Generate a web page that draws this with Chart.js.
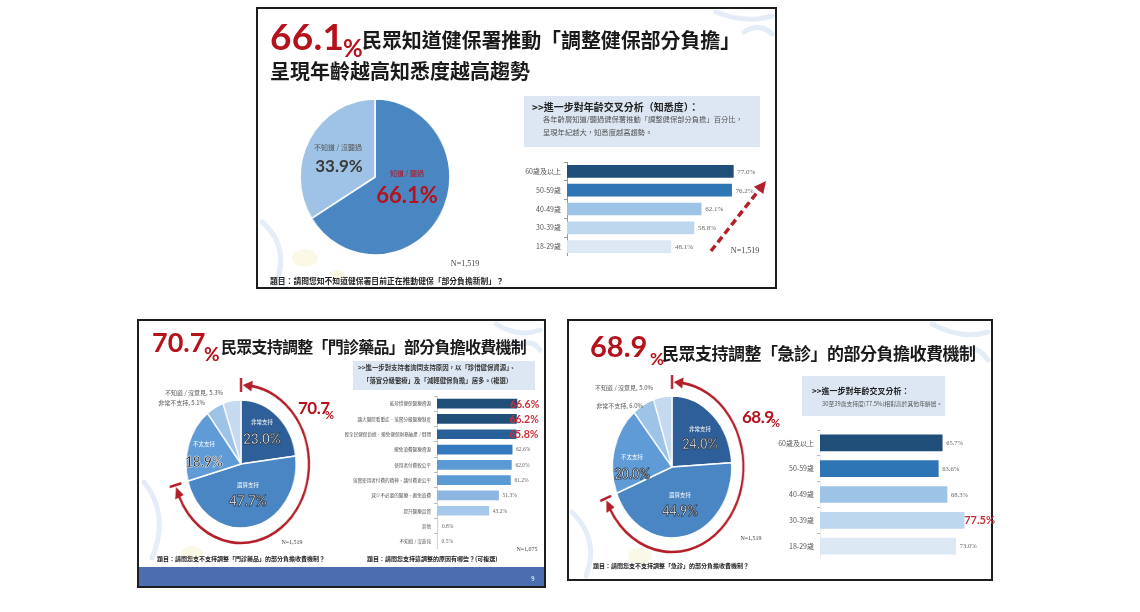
<!DOCTYPE html>
<html lang="zh-Hant">
<head>
<meta charset="utf-8">
<title>健保部分負擔民調</title>
<script src="https://cdn.jsdelivr.net/npm/chart.js@4.4.1/dist/chart.umd.min.js"></script>
<style>
  html, body { margin: 0; padding: 0; background: #fff; }
  body { width: 1140px; height: 612px; position: relative; overflow: hidden;
         font-family: "Noto Sans CJK TC", "Noto Sans", sans-serif; }
  .slide { position: absolute; box-sizing: border-box; border: 2px solid #1e1e1e; background: #fff; }
  .box { position: absolute; background: #dce7f3; }
  .band { position: absolute; background: #4a6eb0; }
  .t { position: absolute; white-space: nowrap; line-height: 1; }
  .num { font-family: Lato, "Open Sans", sans-serif; font-weight: 700; }
  canvas { position: absolute; }
  svg { position: absolute; left: 0; top: 0; }
</style>
</head>
<body>

<div class="slide" style="left:256px;top:7px;width:521px;height:282px"></div>
<div class="slide" style="left:137px;top:319px;width:409px;height:269px"></div>
<div class="slide" style="left:567px;top:319px;width:426px;height:262px"></div>

<!-- 投影片背景的淡色筆觸，只畫在投影片內 -->
<svg width="1140" height="612" fill="none" stroke-linecap="round">
  <defs>
    <clipPath id="inside">
      <rect x="258" y="9" width="517" height="278"/>
      <rect x="139" y="321" width="405" height="246"/>
      <rect x="569" y="321" width="422" height="258"/>
    </clipPath>
  </defs>
  <g clip-path="url(#inside)">
    <g stroke="#d3e2f2" stroke-width="5" opacity="0.6">
      <path d="M716 12 Q746 24 772 16"/>
      <path d="M744 32 Q760 22 772 34"/>
      <path d="M262 222 Q290 246 276 284"/>
      <path d="M496 324 Q518 338 540 330"/>
      <path d="M518 346 Q532 338 540 350"/>
      <path d="M144 482 Q170 515 152 558"/>
      <path d="M932 324 Q962 340 988 332"/>
      <path d="M958 352 Q976 342 988 360"/>
      <path d="M572 512 Q600 540 586 576"/>
    </g>
    <g fill="#f5f0c8" stroke="none" opacity="0.45">
      <ellipse cx="305" cy="258" rx="13" ry="9"/>
      <ellipse cx="338" cy="275" rx="7" ry="5"/>
      <ellipse cx="192" cy="553" rx="11" ry="7"/>
      <ellipse cx="640" cy="556" rx="12" ry="8"/>
    </g>
  </g>
</svg>

<div class="box" style="left:524px;top:96px;width:236px;height:51px"></div>
<div class="box" style="left:353px;top:361px;width:182px;height:29px"></div>
<div class="box" style="left:802px;top:376px;width:143px;height:40px"></div>
<div class="band" style="left:139px;top:567px;width:405px;height:19px"></div>

<canvas id="pie1" width="170" height="170" style="left:290px;top:92px;transform:scaleX(0.96)"></canvas>
<canvas id="bar1" width="276" height="94" style="left:507px;top:162px"></canvas>
<canvas id="pie2" width="200" height="200" style="left:141px;top:364px;transform:scaleX(0.86)"></canvas>
<canvas id="bar2" width="212" height="153" style="left:345px;top:396px"></canvas>
<canvas id="pie3" width="200" height="200" style="left:572px;top:367px;transform:scaleX(0.84)"></canvas>
<canvas id="bar3" width="246" height="129" style="left:760px;top:430px"></canvas>

<svg width="1140" height="612">
  <line x1="711" y1="251" x2="759" y2="190" stroke="#b3202a" stroke-width="3.5" stroke-dasharray="7 4"/>
  <polygon points="766,181 763.3,194.1 753.9,186.7" fill="#b3202a"/>
</svg>

<script>
// ---------- 資料 ----------
// 投影片一：知悉度
const awareLabels = ['知道 / 聽過', '不知道 / 沒聽過'];
const awareValues = [66.1, 33.9];
const ageLabels = ['60歲及以上', '50-59歲', '40-49歲', '30-39歲', '18-29歲'];
const awareByAge = [77.0, 76.2, 62.1, 58.8, 48.1];

// 投影片二：門診藥品
const supportLabels = ['非常支持', '還算支持', '不太支持', '非常不支持', '不知道 / 沒意見'];
const drugSupport = [23.0, 47.7, 18.9, 5.1, 5.3];
const reasonLabels = [
  '能珍惜健保醫療資源',
  '讓大醫院看重症、落實分級醫療制度',
  '減輕全民健保負擔，避免健保財務破產 / 倒閉',
  '避免浪費醫療資源',
  '使用者付費較公平',
  '落實使用者付費的精神，讓付費更公平',
  '減少不必要的醫療、避免浪費',
  '提升醫療品質',
  '其他',
  '不知道 / 沒意見'
];
const reasonValues = [66.6, 66.2, 65.8, 62.6, 62.0, 61.2, 51.3, 43.2, 0.8, 0.5];

// 投影片三：急診
const erSupport = [24.0, 44.9, 20.0, 6.0, 5.0];
const erByAge = [65.7, 63.6, 68.3, 77.5, 73.0];

// ---------- 樣式 ----------
const CJK = '"Noto Sans CJK TC", sans-serif';
const RED = '#b5121b';
const ageColors = ['#1f4e79', '#2e75b6', '#9dc3e6', '#bdd7ee', '#dce9f5'];
const pieColors = ['#2f5f98', '#4a86c4', '#5f9bd6', '#9dc3e6', '#c5d9ef'];
const reasonColors = ['#1f4e79', '#1f4e79', '#275f98', '#3478bd', '#5b9bd5', '#5b9bd5',
                      '#8db7e2', '#a6c8ea', '#c5daf0', '#c5daf0'];

const pct = v => v.toFixed(1) + '%';
const sum = arr => arr.reduce((a, b) => a + b, 0);

// ---------- 文字 ----------
function put(text, x, y, css, anchor, squish) {
  const el = document.createElement('div');
  el.className = 't';
  el.textContent = text;
  el.style.cssText += css;
  el.style.left = x + 'px';
  el.style.top = y + 'px';
  const tx = anchor === 'c' ? '-50%' : anchor === 'r' ? '-100%' : '0';
  el.style.transform = `translate(${tx}, -50%)` + (squish ? ` scaleX(${squish})` : '');
  if (squish && anchor !== 'c') el.style.transformOrigin = '0 50%';
  document.body.appendChild(el);
  return el;
}
const outline = '-webkit-text-stroke:0.9px #2e3b4b;color:#eef2f7;';

// 投影片一
put(awareValues[0].toFixed(1), 270, 35, `font-size:37px;color:${RED};letter-spacing:0.3px;`, 'l').classList.add('num');
put('%', 343, 48, `font-size:24px;color:${RED};`, 'l').classList.add('num');
put('民眾知道健保署推動「調整健保部分負擔」', 362, 40, 'font-size:20px;font-weight:700;color:#1a1a1a;letter-spacing:-0.1px;', 'l');
put('呈現年齡越高知悉度越高趨勢', 270, 71, 'font-size:20px;font-weight:700;color:#1a1a1a;', 'l');
put(awareLabels[1], 338, 147, 'font-size:7px;color:#555;', 'c');
put(pct(awareValues[1]), 339, 165, 'font-size:17px;color:#3b3b3b;', 'c').classList.add('num');
put(awareLabels[0], 407, 173, 'font-size:7px;color:#b5121b;', 'c');
put(pct(awareValues[0]), 407, 195, `font-size:22px;color:${RED};`, 'c').classList.add('num');
put('>>進一步對年齡交叉分析（知悉度）：', 532, 107, 'font-size:10px;font-weight:700;color:#222;', 'l');
put('各年齡層知道/聽過健保署推動「調整健保部分負擔」百分比，', 543, 120, 'font-size:7.3px;color:#555;', 'l');
put('呈現年紀越大，知悉度越高趨勢。', 543, 133, 'font-size:7.3px;color:#555;', 'l');
put('N=1,519', 465, 264, 'font-family:"Liberation Serif";font-size:8px;color:#444;', 'c');
put('N=1,519', 745, 251, 'font-family:"Liberation Serif";font-size:8px;color:#444;', 'c');
put('題目：請問您知不知道健保署目前正在推動健保「部分負擔新制」？', 270, 281, 'font-size:7.8px;font-weight:700;color:#222;', 'l');

// 投影片二
const drugTotal = (drugSupport[0] + drugSupport[1]).toFixed(1);
put(drugTotal, 152, 341, `font-size:27px;color:${RED};`, 'l').classList.add('num');
put('%', 204, 353, `font-size:19px;color:${RED};`, 'l').classList.add('num');
put('民眾支持調整「門診藥品」部分負擔收費機制', 221, 346, 'font-size:16px;font-weight:700;color:#1a1a1a;letter-spacing:-0.75px;', 'l');
put('>>進一步對支持者詢問支持原因，以「珍惜健保資源」、', 358, 368, 'font-size:6.4px;font-weight:700;color:#333;', 'l');
put('「落實分級醫療」及「減輕健保負擔」居多。(複選)', 363, 381, 'font-size:6.4px;font-weight:700;color:#333;', 'l');
put(supportLabels[0], 262, 423, 'font-size:5.5px;color:#fff;', 'c');
put(pct(drugSupport[0]), 262, 438, 'font-size:16px;' + outline, 'c', 0.85).classList.add('num');
put(supportLabels[1], 248, 486, 'font-size:5.5px;color:#fff;', 'c');
put(pct(drugSupport[1]), 248, 500, 'font-size:16px;' + outline, 'c', 0.85).classList.add('num');
put(supportLabels[2], 204, 445, 'font-size:5.5px;color:#fff;', 'c');
put(pct(drugSupport[2]), 204, 461, 'font-size:16px;color:#333;-webkit-text-stroke:0.5px #fff;', 'c', 0.85).classList.add('num');
put(supportLabels[4] + ', ' + pct(drugSupport[4]), 223, 393, 'font-size:6px;color:#555;', 'r');
put(supportLabels[3] + ', ' + pct(drugSupport[3]), 205, 403, 'font-size:6px;color:#555;', 'r');
put(drugTotal, 298, 407, `font-size:17px;color:${RED};letter-spacing:-0.5px;`, 'l').classList.add('num');
put('%', 325, 414, `font-size:11px;color:${RED};`, 'l').classList.add('num');
put('N=1,519', 292, 542, 'font-family:"Liberation Serif";font-size:6px;color:#444;', 'c');
put('N=1,075', 527, 549, 'font-family:"Liberation Serif";font-size:6px;color:#444;', 'c');
put('題目：請問您支不支持調整「門診藥品」的部分負擔收費機制？', 157, 559, 'font-size:6px;font-weight:700;color:#222;', 'l');
put('題目：請問您支持這調整的原因有哪些？(可複選)', 367, 559, 'font-size:6px;font-weight:700;color:#222;', 'l');
put('9', 533, 579, 'font-size:6px;color:#fff;', 'c');

// 投影片三
const erTotal = (erSupport[0] + erSupport[1]).toFixed(1);
const erMax = erByAge.indexOf(Math.max(...erByAge));
put(erTotal, 590, 345, `font-size:29px;color:${RED};`, 'l').classList.add('num');
put('%', 650, 358, `font-size:17px;color:${RED};`, 'l').classList.add('num');
put('民眾支持調整「急診」的部分負擔收費機制', 662, 352, 'font-size:17px;font-weight:700;color:#1a1a1a;letter-spacing:-0.5px;', 'l');
put('>>進一步對年齡交叉分析：', 812, 391, 'font-size:8px;font-weight:700;color:#222;', 'l');
put(`30至39歲支持度(${pct(erByAge[erMax])})相對高於其他年齡層。`, 822, 404, 'font-size:5.8px;color:#555;', 'l');
put(supportLabels[0], 700, 430, 'font-size:5.5px;color:#fff;', 'c');
put(pct(erSupport[0]), 700, 443, 'font-size:15px;' + outline, 'c', 0.85).classList.add('num');
put(supportLabels[2], 632, 458, 'font-size:5.5px;color:#fff;', 'c');
put(pct(erSupport[2]), 632, 473, 'font-size:15px;' + outline, 'c', 0.85).classList.add('num');
put(supportLabels[1], 680, 496, 'font-size:5.5px;color:#fff;', 'c');
put(pct(erSupport[1]), 680, 510, 'font-size:15px;' + outline, 'c', 0.85).classList.add('num');
put(supportLabels[4] + ', ' + pct(erSupport[4]), 653, 388, 'font-size:6px;color:#555;', 'r');
put(supportLabels[3] + ', ' + pct(erSupport[3]), 643, 406, 'font-size:6px;color:#555;', 'r');
put(erTotal, 742, 416, `font-size:17px;color:${RED};letter-spacing:-0.5px;`, 'l').classList.add('num');
put('%', 771, 422, `font-size:11px;color:${RED};`, 'l').classList.add('num');
put('N=1,519', 751, 538, 'font-family:"Liberation Serif";font-size:6px;color:#444;', 'c');
put('題目：請問您支不支持調整「急診」的部分負擔收費機制？', 593, 566, 'font-size:6px;font-weight:700;color:#222;', 'l');

// ---------- 圖表外掛 ----------
function barValues(values, hl, opt) {
  return {
    id: 'barValues',
    afterDatasetsDraw(chart) {
      const ctx = chart.ctx;
      chart.getDatasetMeta(0).data.forEach((bar, i) => {
        ctx.save();
        ctx.textBaseline = 'middle';
        if (hl.includes(i)) {
          ctx.font = `bold ${opt.hlSize}px Lato`;
          ctx.fillStyle = '#c8323c';
          ctx.fillText(pct(values[i]), bar.x + opt.hlShift, bar.y + 0.5);
        } else {
          ctx.font = `${opt.valSize}px "Liberation Serif"`;
          ctx.fillStyle = '#666';
          ctx.fillText(pct(values[i]), bar.x + 4, bar.y + 0.5);
        }
        ctx.restore();
      });
    }
  };
}

function arcArrow(frac, R) {
  return {
    id: 'arcArrow',
    afterDraw(chart) {
      const { ctx, chartArea: a } = chart;
      const cx = (a.left + a.right) / 2, cy = (a.top + a.bottom) / 2;
      const a0 = -Math.PI / 2, a1 = a0 + frac * 2 * Math.PI;
      const head = 11, hw = 5.5, gap = 2;
      const pt = (ang, r) => [cx + r * Math.cos(ang), cy + r * Math.sin(ang)];
      ctx.save();
      ctx.strokeStyle = ctx.fillStyle = '#b3202a';
      ctx.lineWidth = 2.6;
      ctx.beginPath();
      ctx.arc(cx, cy, R, a0 + (gap + head - 1) / R, a1 - (gap + head - 1) / R);
      ctx.stroke();
      [[a0, 1], [a1, -1]].forEach(([ang, dir]) => {
        // 端點擋線
        const p1 = pt(ang, R - 7), p2 = pt(ang, R + 7);
        ctx.beginPath(); ctx.moveTo(...p1); ctx.lineTo(...p2); ctx.stroke();
        // 箭頭
        const tip = pt(ang + dir * gap / R, R);
        const b1 = pt(ang + dir * (gap + head) / R, R + hw);
        const b2 = pt(ang + dir * (gap + head) / R, R - hw);
        ctx.beginPath(); ctx.moveTo(...tip); ctx.lineTo(...b1); ctx.lineTo(...b2); ctx.closePath(); ctx.fill();
      });
      ctx.restore();
    }
  };
}

// ---------- 建立圖表 ----------
function makePie(id, labels, values, colors, radius, extra) {
  return new Chart(document.getElementById(id), {
    type: 'pie',
    data: { labels, datasets: [{ data: values, backgroundColor: colors, borderColor: '#fff', borderWidth: 1.5 }] },
    options: {
      responsive: false, animation: false, events: [],
      radius: radius,
      layout: { padding: 0 },
      plugins: { legend: { display: false }, tooltip: { enabled: false } }
    },
    plugins: extra ? [extra] : []
  });
}

function makeBar(id, labels, values, colors, opt, hl) {
  return new Chart(document.getElementById(id), {
    type: 'bar',
    data: { labels, datasets: [{ data: values, backgroundColor: colors, borderWidth: 0, barThickness: opt.thick }] },
    options: {
      indexAxis: 'y', responsive: false, animation: false, events: [],
      layout: { padding: 0 },
      plugins: { legend: { display: false }, tooltip: { enabled: false } },
      scales: {
        x: { display: false, min: 0, max: 100 },
        y: {
          afterFit(s) { s.width = opt.axisW; s.paddingTop = 0; s.paddingBottom = 0; },
          border: { color: opt.axisColor, width: 1 },
          grid: { drawOnChartArea: false, tickLength: 3, color: opt.tickColor },
          ticks: { color: '#555', font: { family: CJK, size: opt.labelSize }, padding: 3, autoSkip: false }
        }
      }
    },
    plugins: [barValues(values, hl, opt)]
  });
}

makePie('pie1', awareLabels, awareValues, ['#4a86c1', '#9ec3e6'], 78);
makeBar('bar1', ageLabels, awareByAge, ageColors,
  { thick: 12, axisW: 60, axisColor: '#999', tickColor: '#999', labelSize: 7, valSize: 7, hlSize: 11, hlShift: 2 }, []);

makePie('pie2', supportLabels, drugSupport, pieColors, 64,
  arcArrow((drugSupport[0] + drugSupport[1]) / sum(drugSupport), 79));
makeBar('bar2', reasonLabels, reasonValues, reasonColors,
  { thick: 9, axisW: 92, axisColor: '#ccc', tickColor: '#bbb', labelSize: 4.6, valSize: 5.5, hlSize: 10.5, hlShift: -7 }, [0, 1, 2]);

makePie('pie3', supportLabels, erSupport, pieColors, 71,
  arcArrow((erSupport[0] + erSupport[1]) / sum(erSupport), 85));
makeBar('bar3', ageLabels, erByAge, ageColors,
  { thick: 16, axisW: 60, axisColor: '#eee', tickColor: '#bbb', labelSize: 7, valSize: 6.5, hlSize: 11, hlShift: 0 }, [erMax]);
</script>
</body>
</html>
